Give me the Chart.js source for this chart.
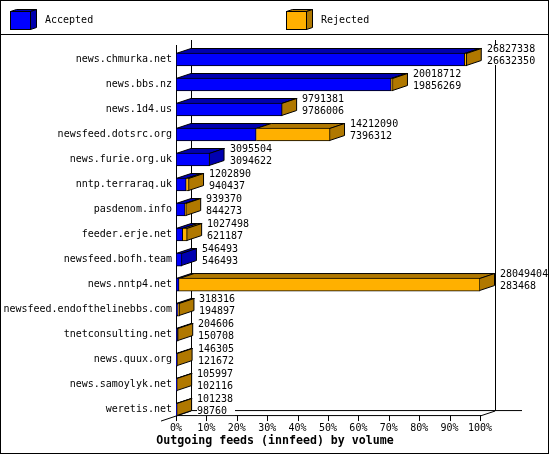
<!DOCTYPE html>
<html>
<head>
<meta charset="utf-8">
<style>
html,body{margin:0;padding:0;background:#fff;}
canvas{display:block;}
</style>
<script src="https://cdn.jsdelivr.net/npm/chart.js@4.4.1/dist/chart.umd.min.js"></script>
</head>
<body>
<canvas id="c" width="550" height="455"></canvas>
<script>
// ---- data ----
const categories = [
  'news.chmurka.net', 'news.bbs.nz', 'news.1d4.us', 'newsfeed.dotsrc.org',
  'news.furie.org.uk', 'nntp.terraraq.uk', 'pasdenom.info', 'feeder.erje.net',
  'newsfeed.bofh.team', 'news.nntp4.net', 'newsfeed.endofthelinebbs.com',
  'tnetconsulting.net', 'news.quux.org', 'news.samoylyk.net', 'weretis.net'
];
const offered = [
  26827338, 20018712, 9791381, 14212090, 3095504, 1202890, 939370, 1027498,
  546493, 28049404, 318316, 204606, 146305, 105997, 101238
];
const accepted = [
  26632350, 19856269, 9786006, 7396312, 3094622, 940437, 844273, 621187,
  546493, 283468, 194897, 150708, 121672, 102116, 98760
];
const seriesNames = ['Accepted', 'Rejected'];
const tickValues = [0, 10, 20, 30, 40, 50, 60, 70, 80, 90, 100];
const chartTitle = 'Outgoing feeds (innfeed) by volume';

// bar lengths as a share of the largest offered volume
const maxOffered = Math.max(...offered);
const acceptedPct = accepted.map(v => v / maxOffered * 100);
const rejectedPct = offered.map((v, i) => (v - accepted[i]) / maxOffered * 100);

// ---- styles ----
const FONT = 'DejaVu Sans Mono';
const BLUE = '#0000ff', BLUE_DK = '#0000b0';
const ORANGE = '#ffb000', ORANGE_DK = '#b07800';
const DX = 15, DY = -5;      // 3D depth of bars
const BAR_H = 13;

function poly(ctx, pts, fill) {
  ctx.beginPath();
  ctx.moveTo(pts[0][0], pts[0][1]);
  for (let k = 1; k < pts.length; k++) ctx.lineTo(pts[k][0], pts[k][1]);
  ctx.closePath();
  ctx.fillStyle = fill;
  ctx.fill();
  ctx.stroke();
}
function line(ctx, x1, y1, x2, y2) {
  ctx.beginPath(); ctx.moveTo(x1, y1); ctx.lineTo(x2, y2); ctx.stroke();
}

const plot3d = {
  id: 'plot3d',
  beforeDatasetsDraw(chart) {
    const {ctx} = chart;
    const xs = chart.scales.x, ys = chart.scales.y;
    const x0 = xs.getPixelForValue(0), x100 = xs.getPixelForValue(100);
    const yTop = ys.getPixelForValue(0) - BAR_H / 2 - 8;
    const yBot = ys.getPixelForValue(categories.length - 1) + BAR_H / 2;
    ctx.save();
    ctx.strokeStyle = '#000';
    ctx.lineWidth = 1;
    // back walls and floor
    line(ctx, x0 + DX + 0.5, yTop + DY, x0 + DX + 0.5, yBot + DY);
    line(ctx, x100 + DX + 0.5, yTop + DY, x100 + DX + 0.5, yBot + DY);
    line(ctx, x0 + DX, yBot + DY - 0.5, x100 + DX + 27, yBot + DY - 0.5);
    // front axes
    line(ctx, x0 + 0.5, yTop, x0 + 0.5, yBot);
    line(ctx, x0, yBot - 0.5, x100 + 1, yBot - 0.5);
    line(ctx, x0 - DX, yBot - DY, x0 + DX, yBot + DY);
    line(ctx, x100, yBot, x100 + DX, yBot + DY);
    xs.ticks.forEach(t => {
      const px = Math.round(xs.getPixelForValue(t.value)) + 0.5;
      line(ctx, px, yBot - 0.5, px, yBot + 5);
    });
    // top and side faces
    const metas = chart.data.datasets.map((d, di) => chart.getDatasetMeta(di));
    for (let i = 0; i < categories.length; i++) {
      let endX = null, endColor = null, top = 0, bottom = 0;
      metas.forEach((m, di) => {
        const el = m.data[i];
        const p = el.getProps(['x', 'y', 'base', 'height'], true);
        top = p.y - p.height / 2;
        bottom = p.y + p.height / 2;
        const c = chart.data.datasets[di].sideColor;
        if (Math.abs(p.x - p.base) > 0.01) {
          const a = Math.min(p.x, p.base), b = Math.max(p.x, p.base);
          poly(ctx, [[a, top + 0.5], [a + DX, top + DY + 0.5], [b + DX, top + DY + 0.5], [b, top + 0.5]], c);
          if (endX === null || b >= endX) { endX = b; endColor = c; }
        }
      });
      if (endX !== null) {
        poly(ctx, [[endX - 0.5, top + 0.5], [endX + DX - 0.5, top + DY + 0.5], [endX + DX - 0.5, bottom + DY - 0.5], [endX - 0.5, bottom - 0.5]], endColor);
      }
    }
    ctx.restore();
  },
  afterDatasetsDraw(chart) {
    const {ctx} = chart;
    const metas = chart.data.datasets.map((d, di) => chart.getDatasetMeta(di));
    ctx.save();
    ctx.font = '10px "' + FONT + '"';
    ctx.textBaseline = 'middle';
    ctx.textAlign = 'left';
    for (let i = 0; i < categories.length; i++) {
      let endX = -Infinity, cy = 0;
      metas.forEach(m => {
        const p = m.data[i].getProps(['x', 'y'], true);
        endX = Math.max(endX, p.x); cy = p.y;
      });
      const tx = Math.round(endX + DX + 5);
      const t1 = String(offered[i]), t2 = String(accepted[i]);
      const w = Math.max(ctx.measureText(t1).width, ctx.measureText(t2).width);
      ctx.fillStyle = '#fff';
      ctx.fillRect(tx, cy - 14, Math.ceil(w) + 1, 19.5);
      ctx.fillStyle = '#000';
      ctx.fillText(t1, tx, cy - 10);
      ctx.fillText(t2, tx, cy + 2);
    }
    ctx.restore();
  },
  afterDraw(chart) {
    const {ctx} = chart;
    ctx.save();
    ctx.fillStyle = '#000';
    // outer frame and legend separator
    ctx.fillRect(0, 0, 549, 1);
    ctx.fillRect(0, 0, 1, 454);
    ctx.fillRect(548, 0, 1, 454);
    ctx.fillRect(0, 453, 549, 1);
    ctx.fillRect(0, 34, 549, 1);
    // legend
    ctx.strokeStyle = '#000';
    ctx.lineWidth = 1;
    ctx.font = '10px "' + FONT + '"';
    ctx.textBaseline = 'middle';
    chart.data.datasets.forEach((ds, di) => {
      const bx = 10 + di * 276, by = 11, bw = 20, bh = 18, dx = 6, dy = -2;
      poly(ctx, [[bx + 0.5, by + 0.5], [bx + dx + 0.5, by + dy + 0.5], [bx + bw + dx + 0.5, by + dy + 0.5], [bx + bw + 0.5, by + 0.5]], ds.sideColor);
      poly(ctx, [[bx + bw + 0.5, by + 0.5], [bx + bw + dx + 0.5, by + dy + 0.5], [bx + bw + dx + 0.5, by + bh + dy + 0.5], [bx + bw + 0.5, by + bh + 0.5]], ds.sideColor);
      ctx.fillStyle = ds.backgroundColor;
      ctx.fillRect(bx, by, bw, bh);
      ctx.strokeRect(bx + 0.5, by + 0.5, bw, bh);
      ctx.fillStyle = '#000';
      ctx.fillText(ds.label, bx + 35, 20);
    });
    ctx.restore();
  }
};

const tickFont = {family: FONT, size: 10};

new Chart(document.getElementById('c'), {
  type: 'bar',
  data: {
    labels: categories,
    datasets: [
      {label: seriesNames[0], data: acceptedPct, backgroundColor: BLUE, sideColor: BLUE_DK,
       borderColor: '#000', borderWidth: 1, borderSkipped: false, barThickness: BAR_H},
      {label: seriesNames[1], data: rejectedPct, backgroundColor: ORANGE, sideColor: ORANGE_DK,
       borderColor: '#000', borderWidth: 1, borderSkipped: 'start', barThickness: BAR_H}
    ]
  },
  options: {
    indexAxis: 'y',
    responsive: false,
    animation: false,
    devicePixelRatio: 1,
    layout: {padding: {top: 47, left: 0, right: 0, bottom: 0}},
    scales: {
      x: {
        type: 'linear', min: 0, max: 100, stacked: true, position: 'bottom',
        grid: {display: false, drawTicks: false}, border: {display: false},
        afterBuildTicks: s => { s.ticks = tickValues.map(v => ({value: v})); },
        ticks: {padding: 0, color: '#000', font: tickFont, autoSkip: false, maxRotation: 0,
                callback: v => v + '%'},
        afterFit: s => { s.height = 12; }
      },
      y: {
        type: 'category', stacked: true, position: 'left', offset: true,
        grid: {display: false, drawTicks: false}, border: {display: false},
        ticks: {padding: 4, color: '#000', font: tickFont, autoSkip: false},
        afterFit: s => { s.width = 176; }
      },
      y2: {
        type: 'category', position: 'right',
        grid: {display: false, drawTicks: false}, border: {display: false},
        ticks: {display: false},
        afterFit: s => { s.width = 70; }
      }
    },
    plugins: {
      legend: {display: false},
      tooltip: {enabled: false},
      title: {
        display: true, text: chartTitle, position: 'bottom', color: '#000',
        font: {family: FONT, size: 11.6, weight: 'bold'},
        padding: {top: 0, bottom: 7}
      }
    }
  },
  plugins: [plot3d]
});
</script>
</body>
</html>
